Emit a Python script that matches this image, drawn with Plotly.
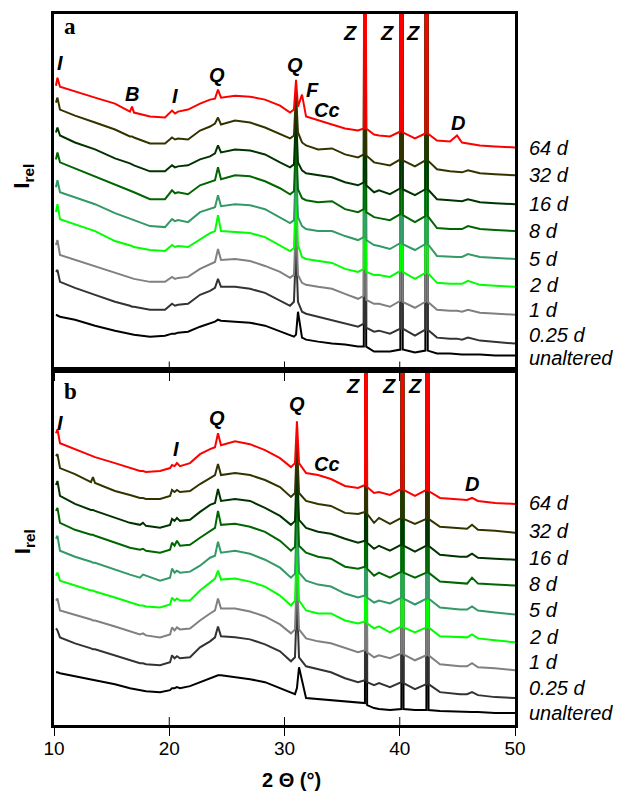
import plotly.graph_objects as go

# ---------------- data ----------------
TWO_THETA_A = [10.17, 10.30, 10.52, 11.82, 13.56, 15.29, 16.59, 16.77, 16.94, 18.33, 19.63, 20.24, 20.50, 20.76, 21.63,
               22.67, 23.54, 23.97, 24.23, 24.49, 25.71, 27.01, 28.31, 29.61, 30.48, 30.82, 31.00, 31.17, 31.52, 31.87,
               32.91, 34.12, 35.25, 36.38, 36.88, 36.98, 37.09, 37.77, 38.20, 39.15, 40.05, 40.15, 40.26, 41.32, 42.22,
               42.32, 42.43, 43.23, 44.36, 44.97, 45.40, 45.92, 46.96, 48.27, 50.00]

TWO_THETA_B = [10.17, 10.30, 10.52, 11.82, 13.21, 13.38, 13.56, 15.29, 16.59, 17.46, 17.72, 17.98, 19.20, 20.07, 20.24,
               20.46, 20.67, 20.93, 21.80, 22.67, 23.54, 23.97, 24.23, 24.49, 25.71, 27.01, 28.31, 29.61, 30.56, 30.91,
               31.08, 31.26, 31.87, 32.91, 34.03, 35.25, 36.38, 36.98, 37.07, 37.17, 37.77, 38.20, 39.15, 40.14, 40.24,
               40.33, 41.32, 42.31, 42.41, 42.50, 43.49, 45.23, 45.84, 46.27, 46.79, 48.27, 50.00]

SERIES = ["64 d", "32 d", "16 d", "8 d", "5 d", "2 d", "1 d", "0.25 d", "unaltered"]
COLORS = ["#ff0000", "#333300", "#003300", "#006600", "#339966", "#00ff00", "#808080", "#333333", "#000000"]

# panel a (stacked relative intensities)
A_64D = [285, 293, 284, 279, 273, 267, 259, 264, 258, 254, 253, 260, 257, 259, 261, 267, 271, 272, 281, 273, 275, 274,
         271, 265, 258, 261, 291, 264, 276, 254, 250, 246, 242, 240, 242, 900, 242, 236, 235, 234, 239, 900, 238, 232,
         237, 900, 237, 230, 229, 235, 228, 227, 225, 224, 223]
A_32D = [268, 273, 261, 255, 248, 241, 234, 234, 233, 227, 227, 233, 231, 232, 231, 240, 244, 247, 253, 246, 250, 248,
         243, 236, 232, 235, 278, 238, 228, 225, 221, 222, 216, 213, 216, 900, 215, 208, 207, 205, 211, 900, 210, 204,
         210, 900, 210, 201, 199, 198, 198, 200, 197, 196, 195]
A_16D = [238, 243, 235, 228, 221, 212, 207, 206, 205, 199, 199, 205, 203, 204, 205, 211, 214, 217, 225, 218, 221, 220,
         216, 208, 203, 206, 258, 208, 200, 197, 195, 193, 188, 185, 188, 900, 185, 178, 180, 176, 182, 900, 181, 175,
         181, 900, 181, 171, 170, 169, 169, 171, 168, 167, 166]
A_8D = [211, 218, 208, 202, 194, 186, 180, 179, 178, 171, 171, 180, 177, 178, 176, 185, 188, 190, 203, 191, 195, 194,
        189, 182, 176, 179, 233, 181, 172, 170, 168, 169, 161, 158, 161, 900, 158, 153, 152, 150, 156, 900, 155, 148,
        154, 900, 154, 142, 141, 141, 141, 144, 141, 140, 139]
A_5D = [183, 190, 178, 173, 166, 157, 152, 151, 150, 144, 143, 151, 149, 150, 148, 158, 161, 163, 175, 164, 166, 165,
        161, 153, 147, 150, 208, 153, 144, 141, 139, 139, 134, 130, 133, 900, 130, 125, 124, 121, 127, 900, 126, 120,
        126, 900, 126, 114, 113, 113, 113, 116, 113, 112, 111]
A_2D = [158, 166, 151, 146, 139, 129, 125, 124, 123, 120, 119, 125, 123, 124, 123, 131, 137, 139, 155, 139, 138, 137,
        133, 125, 119, 122, 183, 125, 113, 111, 109, 107, 101, 98, 101, 900, 98, 95, 95, 93, 99, 900, 98, 91,
        97, 900, 97, 87, 86, 86, 86, 89, 85, 84, 83]
A_1D = [125, 130, 115, 110, 104, 97, 92, 91, 91, 88, 88, 93, 91, 92, 93, 101, 106, 108, 121, 110, 111, 109,
        104, 98, 92, 95, 153, 95, 87, 85, 83, 81, 76, 71, 74, 900, 70, 66, 66, 63, 69, 900, 68, 62,
        68, 900, 68, 60, 59, 59, 58, 60, 57, 56, 55]
A_025D = [98, 100, 88, 82, 75, 68, 64, 63, 63, 60, 60, 66, 64, 65, 66, 75, 79, 82, 91, 83, 83, 81,
          77, 69, 64, 68, 123, 68, 58, 56, 53, 50, 47, 43, 46, 900, 42, 38, 39, 36, 41, 900, 41, 34,
          40, 900, 40, 32, 31, 31, 30, 32, 29, 28, 26]
A_UNALT = [55, 54, 53, 50, 44, 39, 36, 35, 35, 33, 34, 36, 36, 37, 38, 43, 46, 48, 50, 49, 48, 47,
           44, 38, 34, 33, 35, 58, 32, 30, 28, 26, 25, 23, 23, 900, 23, 18, 18, 18, 20, 900, 20, 17,
           19, 900, 19, 16, 16, 15, 15, 15, 15, 14, 14]

# panel b
B_64D = [293, 297, 283, 277, 270, 270, 269, 263, 258, 255, 255, 254, 255, 258, 261, 260, 263, 260, 263, 272, 277, 279,
         293, 281, 285, 282, 276, 268, 259, 263, 305, 263, 253, 251, 247, 240, 238, 241, 900, 239, 233, 234, 231, 237,
         900, 236, 230, 236, 900, 235, 228, 226, 226, 228, 225, 223, 222]
B_32D = [270, 272, 258, 252, 244, 249, 243, 235, 231, 228, 228, 227, 227, 230, 236, 234, 236, 234, 235, 242, 248, 251,
         262, 251, 253, 251, 246, 239, 229, 233, 285, 233, 225, 222, 220, 213, 212, 214, 900, 212, 203, 208, 202, 208,
         900, 207, 202, 207, 900, 207, 199, 197, 197, 201, 196, 195, 193]
B_16D = [241, 245, 230, 222, 216, 216, 215, 208, 203, 201, 203, 200, 198, 201, 207, 205, 208, 205, 206, 214, 221, 223,
         237, 225, 227, 225, 218, 210, 201, 205, 265, 206, 198, 194, 192, 187, 183, 185, 900, 183, 177, 180, 175, 181,
         900, 180, 174, 180, 900, 180, 171, 169, 169, 172, 168, 167, 166]
B_8D = [215, 218, 203, 196, 191, 191, 190, 183, 178, 176, 177, 175, 173, 176, 183, 180, 185, 180, 181, 188, 195, 198,
        215, 201, 202, 199, 194, 185, 175, 179, 245, 180, 173, 169, 167, 159, 157, 159, 900, 157, 150, 153, 148, 154,
        900, 153, 148, 153, 900, 153, 144, 142, 142, 148, 142, 141, 140]
B_5D = [187, 190, 175, 169, 164, 163, 163, 156, 151, 148, 151, 150, 145, 148, 157, 153, 155, 153, 154, 160, 168, 170,
        184, 173, 175, 172, 166, 158, 148, 152, 215, 153, 145, 141, 139, 132, 128, 130, 900, 128, 123, 125, 122, 128,
        900, 127, 121, 127, 900, 127, 118, 116, 116, 119, 115, 113, 111]
B_2D = [150, 153, 145, 140, 135, 135, 134, 128, 123, 120, 120, 119, 118, 121, 128, 125, 127, 125, 125, 135, 143, 147,
        155, 146, 147, 144, 139, 130, 120, 125, 185, 125, 115, 112, 112, 105, 102, 104, 900, 102, 97, 99, 93, 99,
        900, 98, 93, 98, 900, 98, 89, 88, 88, 91, 87, 85, 83]
B_1D = [125, 127, 115, 111, 106, 105, 105, 99, 94, 91, 92, 90, 88, 91, 98, 95, 98, 96, 97, 105, 112, 115,
        127, 117, 117, 114, 109, 101, 92, 96, 155, 96, 87, 84, 82, 77, 73, 75, 900, 73, 68, 70, 67, 72,
        900, 71, 65, 70, 900, 70, 61, 59, 59, 62, 58, 57, 55]
B_025D = [97, 95, 88, 82, 77, 76, 76, 70, 65, 62, 62, 61, 60, 63, 70, 67, 69, 67, 68, 78, 84, 88,
          99, 89, 88, 86, 81, 74, 64, 68, 125, 68, 59, 56, 53, 47, 43, 45, 900, 43, 40, 42, 38, 43,
          900, 42, 36, 41, 900, 41, 33, 31, 31, 33, 30, 28, 27]
B_UNALT = [53, 53, 52, 49, 46, 45, 45, 41, 37, 35, 34, 34, 33, 35, 37, 37, 38, 37, 39, 43, 47, 49,
           50, 50, 48, 46, 43, 37, 32, 31, 37, 58, 27, 26, 25, 24, 23, 22, 900, 20, 17, 16, 15, 16,
           900, 16, 15, 15, 900, 15, 14, 13, 13, 13, 13, 12, 12]

TICK_VALS = [10, 20, 30, 40, 50]
TICK_TEXT = ["10", "20", "30", "40", "50"]

PEAKS_A = [("I", 10.52, 308), ("B", 16.77, 277), ("I", 20.50, 275), ("Q", 24.14, 296), ("Q", 30.91, 306),
           ("F", 32.39, 281), ("Cc", 33.69, 261), ("Z", 35.68, 338), ("Z", 38.89, 338), ("Z", 41.15, 338),
           ("D", 45.05, 248)]
PEAKS_B = [("I", 10.52, 303), ("I", 20.59, 277), ("Q", 24.14, 308), ("Q", 31.08, 322), ("Cc", 33.69, 262),
           ("Z", 35.94, 340), ("Z", 39.07, 340), ("Z", 41.32, 340), ("D", 46.27, 242)]

LABEL_Y_A = [222, 195, 166, 139, 111, 85, 60, 35, 12]
LABEL_Y_B = [223, 195, 168, 142, 115, 88, 63, 37, 12]

PANEL_A = [A_64D, A_32D, A_16D, A_8D, A_5D, A_2D, A_1D, A_025D, A_UNALT]
PANEL_B = [B_64D, B_32D, B_16D, B_8D, B_5D, B_2D, B_1D, B_025D, B_UNALT]
for s in PANEL_A:
    assert len(s) == len(TWO_THETA_A)
for s in PANEL_B:
    assert len(s) == len(TWO_THETA_B)

# ---------------- figure ----------------
FONT = "Arial, Liberation Sans, sans-serif"
fig = go.Figure()

# draw bottom curve first so upper curves lie on top
for i in reversed(range(len(SERIES))):
    fig.add_trace(go.Scatter(x=TWO_THETA_A, y=PANEL_A[i], mode="lines", xaxis="x2", yaxis="y2",
                             line=dict(color=COLORS[i], width=2), showlegend=False, hoverinfo="skip"))
    fig.add_trace(go.Scatter(x=TWO_THETA_B, y=PANEL_B[i], mode="lines", xaxis="x", yaxis="y",
                             line=dict(color=COLORS[i], width=2), showlegend=False, hoverinfo="skip"))

axis_common = dict(range=[10, 50], showline=True, linewidth=3, linecolor="black", mirror=True,
                   showgrid=False, zeroline=False, tickvals=TICK_VALS, ticktext=TICK_TEXT,
                   ticks="outside", ticklen=8, tickwidth=1, tickcolor="black")
yaxis_common = dict(range=[0, 357], showline=True, linewidth=3, linecolor="black", mirror=True,
                    showgrid=False, zeroline=False, showticklabels=False, ticks="")

# the page body adds an 8 px margin, so the figure is sized 8 px smaller
fig.update_layout(
    width=614, height=785,
    margin=dict(l=46, r=107, t=3, b=68),
    paper_bgcolor="white", plot_bgcolor="white",
    xaxis=dict(anchor="y", domain=[0, 1], tickfont=dict(family=FONT, size=19, color="black"),
               ticklabelstandoff=-4, **axis_common),
    xaxis2=dict(anchor="y2", domain=[0, 1], matches="x", showticklabels=False, **axis_common),
    yaxis=dict(domain=[0, 0.5], anchor="x", **yaxis_common),
    yaxis2=dict(domain=[0.5, 1], anchor="x2", **yaxis_common),
)

# inner halves of the crossing tick marks
shapes = []
for t in TICK_VALS[1:-1]:
    for xr, yr in (("x", "y domain"), ("x2", "y2 domain")):
        shapes.append(dict(type="line", xref=xr, yref=yr, x0=t, x1=t, y0=0, y1=8 / 357,
                           line=dict(color="black", width=1)))
fig.update_layout(shapes=shapes)

ann = []
peak_font = dict(family=FONT, size=20, color="black", weight="bold", style="italic")
for txt, x, y in PEAKS_A:
    ann.append(dict(text=txt, x=x, y=y, xref="x2", yref="y2", showarrow=False,
                    xanchor="center", yanchor="middle", font=peak_font))
for txt, x, y in PEAKS_B:
    ann.append(dict(text=txt, x=x, y=y, xref="x", yref="y", showarrow=False,
                    xanchor="center", yanchor="middle", font=peak_font))

lab_font = dict(family=FONT, size=20, color="black", style="italic")
for name, ya, yb in zip(SERIES, LABEL_Y_A, LABEL_Y_B):
    ann.append(dict(text=name, x=1.026, y=ya, xref="paper", yref="y2", showarrow=False,
                    xanchor="left", yanchor="middle", font=lab_font))
    ann.append(dict(text=name, x=1.026, y=yb, xref="paper", yref="y", showarrow=False,
                    xanchor="left", yanchor="middle", font=lab_font))

# panel letters
for letter, yp in (("a", 0.982), ("b", 0.469)):
    ann.append(dict(text="<b>" + letter + "</b>", x=0.0174, y=yp, xref="paper", yref="paper",
                    showarrow=False, xanchor="left", yanchor="middle",
                    font=dict(family="Times New Roman, Liberation Serif, serif", size=23, color="black")))

# y titles
for yp in (0.772, 0.258):
    ann.append(dict(text="<b>I<sub>rel</sub></b>", x=-0.066, y=yp, xref="paper", yref="paper",
                    showarrow=False, textangle=-90, xanchor="center", yanchor="middle", borderpad=0,
                    font=dict(family=FONT, size=22, color="black")))

# x title
ann.append(dict(text="<b>2 Θ (°)</b>", x=0.516, y=-0.078, xref="paper", yref="paper",
                showarrow=False, xanchor="center", yanchor="middle", borderpad=0,
                font=dict(family=FONT, size=20, color="black")))

fig.update_layout(annotations=ann)
fig.write_html("out.html")
